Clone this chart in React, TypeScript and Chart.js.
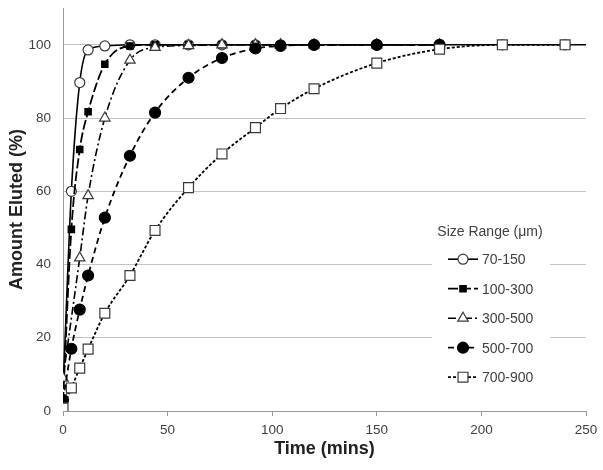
import React, { useEffect, useRef } from 'react';
import { Chart, registerables } from 'chart.js';
import { drawPoint } from 'chart.js/helpers';

Chart.register(...registerables);

// ---- data ----
const seriesLabels = ['70-150', '100-300', '300-500', '500-700', '700-900'];
const legendTitle = 'Size Range (\u03bcm)';
const xTitle = 'Time (mins)';
const yTitle = 'Amount Eluted (%)';
const xTicks = [0, 50, 100, 150, 200, 250];
const yTicks = [0, 20, 40, 60, 80, 100];

const times70 = [0, 4, 8, 12, 20, 32, 44, 60, 76, 92, 104, 120, 150, 180, 210, 240, 250];
const vals70 = [5.5, 60, 89.7, 98.6, 99.7, 100, 100, 100, 100, 100, 100, 100, 100, 100, 100, 100, 100];

const times100 = [0, 4, 8, 12, 20, 32, 44, 60, 76, 92, 104, 120, 150, 180];
const vals100 = [2.5, 49.6, 71.4, 81.7, 94.7, 99.7, 100, 100, 100, 100, 100, 100, 100, 100];

const times300 = [0, 8, 12, 20, 32, 44, 60, 76, 92, 104, 120, 150, 180];
const vals300 = [9, 41.8, 58.8, 80, 95.8, 99.3, 99.8, 100, 100, 100, 100, 100, 100];

const times500 = [0, 4, 8, 12, 20, 32, 44, 60, 76, 92, 104, 120, 150, 180];
const vals500 = [3, 17, 27.7, 37, 52.8, 69.7, 81.5, 91, 96.4, 99, 99.7, 100, 100, 100];

const times700 = [0, 4, 8, 12, 20, 32, 44, 60, 76, 92, 104, 120, 150, 180, 210, 240];
const vals700 = [0.8, 6.3, 11.7, 16.9, 26.7, 37, 49.3, 61, 70.2, 77.4, 82.6, 88, 95, 98.8, 100, 100];

const FONT = 'Arial, "Liberation Sans", Helvetica, sans-serif';
const TEXT = '#404040';

const toPoints = (t: number[], v: number[]) => t.map((x, i) => ({ x, y: v[i] }));

const legendPlugin = {
  id: 'customLegend',
  afterDraw(chart: any) {
    const ctx = chart.ctx as CanvasRenderingContext2D;
    const area = chart.chartArea;
    const bx = area.left + 369;
    const by = area.top + 209;
    ctx.save();
    ctx.fillStyle = '#ffffff';
    ctx.fillRect(bx, by, 118, 178);
    ctx.fillStyle = TEXT;
    ctx.font = `14px ${FONT}`;
    ctx.textAlign = 'center';
    ctx.textBaseline = 'middle';
    ctx.fillText(legendTitle, bx + 58, by + 15);
    chart.data.datasets.forEach((ds: any, i: number) => {
      const y = by + 42 + i * 29.5;
      const x0 = bx + 16;
      const x1 = bx + 46;
      ctx.save();
      ctx.strokeStyle = ds.borderColor;
      ctx.lineWidth = ds.borderWidth;
      ctx.setLineDash(ds.borderDash || []);
      ctx.beginPath();
      ctx.moveTo(x0, y);
      ctx.lineTo(x1, y);
      ctx.stroke();
      ctx.setLineDash([]);
      ctx.fillStyle = ds.pointBackgroundColor;
      ctx.strokeStyle = ds.pointBorderColor;
      ctx.lineWidth = ds.pointBorderWidth;
      drawPoint(ctx, { pointStyle: ds.pointStyle, radius: ds.legendRadius, borderWidth: ds.pointBorderWidth, rotation: 0 }, (x0 + x1) / 2, y);
      ctx.restore();
      ctx.fillStyle = TEXT;
      ctx.textAlign = 'left';
      ctx.fillText(seriesLabels[i], x1 + 4, y + 1);
    });
    ctx.restore();
  },
};

export default function App() {
  const ref = useRef<HTMLCanvasElement>(null);
  useEffect(() => {
    if (!ref.current) return;
    const common = {
      borderColor: '#000000',
      showLine: true,
      cubicInterpolationMode: 'monotone',
      pointBorderColor: '#3a3a3a',
      pointBorderWidth: 1.2,
      pointHoverRadius: 0,
    };
    const chart = new Chart(ref.current, {
      type: 'line',
      data: {
        datasets: [
          {
            ...common,
            label: seriesLabels[0],
            data: toPoints(times70, vals70),
            borderWidth: 1.6,
            borderDash: [],
            pointStyle: 'circle',
            pointRadius: (c: any) => (c.raw && c.raw.x === 250 ? 0 : 5),
            legendRadius: 5,
            pointBackgroundColor: '#ffffff',
            order: 4,
          },
          {
            ...common,
            label: seriesLabels[1],
            data: toPoints(times100, vals100),
            borderWidth: 1.8,
            borderDash: [10, 3],
            pointStyle: 'rect',
            pointRadius: 4.5,
            legendRadius: 4.5,
            pointBackgroundColor: '#000000',
            pointBorderColor: '#000000',
            order: 3,
          },
          {
            ...common,
            label: seriesLabels[2],
            data: toPoints(times300, vals300),
            borderWidth: 1.6,
            borderDash: [8, 3, 2, 3],
            pointStyle: 'triangle',
            pointRadius: 6,
            legendRadius: 6,
            pointBackgroundColor: '#ffffff',
            order: 2,
          },
          {
            ...common,
            label: seriesLabels[3],
            data: toPoints(times500, vals500),
            borderWidth: 1.8,
            borderDash: [6, 4],
            pointStyle: 'circle',
            pointRadius: 5.5,
            legendRadius: 5.5,
            pointBackgroundColor: '#000000',
            pointBorderColor: '#000000',
            order: 1,
          },
          {
            ...common,
            label: seriesLabels[4],
            data: toPoints(times700, vals700),
            borderWidth: 1.8,
            borderDash: [3, 2],
            pointStyle: 'rect',
            pointRadius: 7,
            legendRadius: 7,
            pointBackgroundColor: '#ffffff',
            order: 0,
          },
        ] as any,
      },
      options: {
        animation: false,
        responsive: false,
        devicePixelRatio: 1,
        events: [],
        layout: { padding: { left: 0, right: 17, top: 7, bottom: 0 } },
        plugins: {
          legend: { display: false },
          tooltip: { enabled: false },
        },
        scales: {
          x: {
            type: 'linear',
            min: 0,
            max: 250,
            afterBuildTicks: (s: any) => {
              s.ticks = xTicks.map((v) => ({ value: v }));
            },
            afterFit: (s: any) => {
              s.height = 59;
              s.paddingLeft = 0;
              s.paddingRight = 0;
            },
            grid: { drawOnChartArea: false, drawTicks: true, tickLength: 5, color: '#9a9a9a' },
            border: { display: true, color: '#9a9a9a', width: 1 },
            ticks: { color: TEXT, font: { family: FONT, size: 13.5 }, padding: 6, maxRotation: 0 },
            title: {
              display: true,
              text: xTitle,
              color: '#222222',
              font: { family: FONT, size: 18, weight: 'bold' },
              padding: { top: 0, bottom: 10 },
            },
          },
          y: {
            type: 'linear',
            min: 0,
            max: 110,
            afterBuildTicks: (s: any) => {
              s.ticks = yTicks.map((v) => ({ value: v }));
            },
            afterFit: (s: any) => {
              s.width = 63;
              s.paddingTop = 0;
              s.paddingBottom = 0;
            },
            grid: { color: '#c4c4c4', lineWidth: 1, drawTicks: false },
            border: { display: true, color: '#9a9a9a', width: 1 },
            ticks: { color: TEXT, font: { family: FONT, size: 13.5 }, padding: 12 },
            title: {
              display: true,
              text: yTitle,
              color: '#222222',
              font: { family: FONT, size: 18, weight: 'bold' },
              padding: { top: 6, bottom: 0 },
            },
          },
        },
      } as any,
      plugins: [legendPlugin],
    });
    return () => chart.destroy();
  }, []);
  return (
    <div style={{ position: 'absolute', left: 0, top: 0, width: 603, height: 470, background: '#fff' }}>
      <canvas ref={ref} width={603} height={470} style={{ width: 603, height: 470, display: 'block' }} />
    </div>
  );
}
